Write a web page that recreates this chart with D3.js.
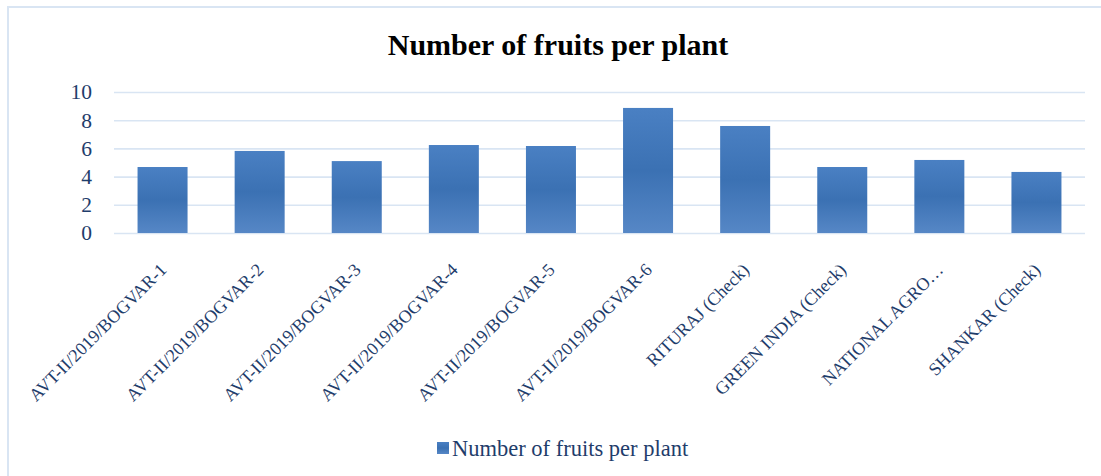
<!DOCTYPE html>
<html>
<head>
<meta charset="utf-8">
<script src="https://cdn.jsdelivr.net/npm/d3@7"></script>
<style>
  html, body { margin: 0; padding: 0; background: #fff; }
  svg { display: block; }
</style>
</head>
<body>
<div id="chart"></div>
<script>
const categories = [
  'AVT-II/2019/BOGVAR-1',
  'AVT-II/2019/BOGVAR-2',
  'AVT-II/2019/BOGVAR-3',
  'AVT-II/2019/BOGVAR-4',
  'AVT-II/2019/BOGVAR-5',
  'AVT-II/2019/BOGVAR-6',
  'RITURAJ (Check)',
  'GREEN INDIA (Check)',
  'NATIONAL AGRO…',
  'SHANKAR (Check)'
]
const fruitsPerPlant = [4.68, 5.82, 5.1, 6.24, 6.17, 8.87, 7.59, 4.68, 5.18, 4.33]
const yTicks = [0, 2, 4, 6, 8, 10]
const seriesName = 'Number of fruits per plant'
const chartTitle = 'Number of fruits per plant'

const width = 1101
const height = 476
const plot = { left: 114, right: 1085, top: 92, bottom: 233 }
const serif = '"Liberation Serif", "Times New Roman", serif'
const labelColor = '#1f3d6b'
const gridColor = '#d9e5f3'

const svg = d3.select('#chart')
  .append('svg')
  .attr('width', width)
  .attr('height', height)

const defs = svg.append('defs')
const grad = defs.append('linearGradient')
  .attr('id', 'barFill')
  .attr('x1', 0).attr('y1', 0).attr('x2', 0).attr('y2', 1)
grad.append('stop').attr('offset', '0%').attr('stop-color', '#4a80c3')
grad.append('stop').attr('offset', '50%').attr('stop-color', '#3b71b3')
grad.append('stop').attr('offset', '100%').attr('stop-color', '#5687c6')

// chart frame
svg.append('path')
  .attr('d', `M8,${height + 5} V7 H${width + 5}`)
  .attr('fill', 'none')
  .attr('stroke', gridColor)
  .attr('stroke-width', 2)

svg.append('text')
  .attr('x', 558)
  .attr('y', 55)
  .attr('text-anchor', 'middle')
  .attr('font-family', serif)
  .attr('font-weight', 'bold')
  .attr('font-size', 30)
  .attr('fill', '#000')
  .text(chartTitle)

const x = d3.scaleBand()
  .domain(categories)
  .range([plot.left, plot.right])
  .paddingInner(0.485)
  .paddingOuter(0.2425)

const y = d3.scaleLinear()
  .domain([0, 10])
  .range([plot.bottom, plot.top])

// gridlines + y labels
const yAxis = svg.append('g')
  .attr('transform', `translate(${plot.left},0)`)
  .call(d3.axisLeft(y).tickValues(yTicks).tickSize(-(plot.right - plot.left)).tickPadding(22))
yAxis.select('.domain').remove()
yAxis.selectAll('line')
  .attr('stroke', gridColor)
  .attr('stroke-width', 1.6)
yAxis.selectAll('text')
  .attr('font-family', serif)
  .attr('font-size', 21.5)
  .attr('fill', labelColor)

svg.selectAll('rect.bar')
  .data(fruitsPerPlant)
  .enter()
  .append('rect')
  .attr('class', 'bar')
  .attr('x', (d, i) => x(categories[i]))
  .attr('y', d => y(d))
  .attr('width', x.bandwidth())
  .attr('height', d => y(0) - y(d))
  .attr('fill', 'url(#barFill)')

// x labels rotated
svg.append('g')
  .selectAll('text')
  .data(categories)
  .enter()
  .append('text')
  .attr('transform', d => `translate(${x(d) + x.bandwidth() / 2 + 5},${plot.bottom + 38}) rotate(-45)`)
  .attr('text-anchor', 'end')
  .attr('font-family', serif)
  .attr('font-size', 18)
  .attr('fill', labelColor)
  .text(d => d)

// legend
const legend = svg.append('g').attr('transform', 'translate(437,442)')
legend.append('rect')
  .attr('width', 12)
  .attr('height', 12)
  .attr('fill', 'url(#barFill)')
legend.append('text')
  .attr('x', 15)
  .attr('y', 14)
  .attr('font-family', serif)
  .attr('font-size', 22.5)
  .attr('fill', labelColor)
  .text(seriesName)
</script>
</body>
</html>
